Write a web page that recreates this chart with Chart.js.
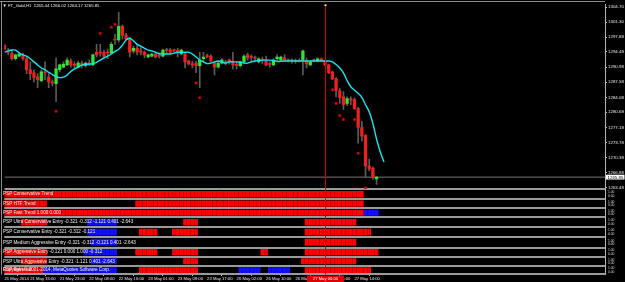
<!DOCTYPE html>
<html>
<head>
<meta charset="utf-8">
<script src="https://cdn.jsdelivr.net/npm/chart.js@4.4.1/dist/chart.umd.min.js"></script>
<style>
  html, body { margin: 0; padding: 0; background: #000; }
</style>
</head>
<body>
<canvas id="gold" width="625" height="282"></canvas>
<script>
'use strict'

// H1 bars, oldest first (bar 101 is the live one)
const opens = [
  1296.0, 1294.7, 1294.2, 1292.9, 1293.5, 1293.8, 1292.9, 1290.4, 1289.7, 1288.8,
  1287.9, 1289.9, 1288.8, 1287.6, 1287.2, 1290.4, 1291.0, 1291.5, 1292.4, 1291.5,
  1291.0, 1291.9, 1291.3, 1291.9, 1291.5, 1294.4, 1294.4, 1294.4, 1294.4, 1294.2,
  1297.4, 1297.2, 1300.3, 1298.3, 1297.4, 1294.7, 1295.3, 1294.7, 1294.4, 1293.3,
  1293.5, 1294.0, 1293.8, 1293.5, 1294.9, 1294.9, 1294.9, 1294.7, 1294.0, 1294.0,
  1292.4, 1291.7, 1291.9, 1291.3, 1292.9, 1293.5, 1293.5, 1291.9, 1291.0, 1291.9,
  1292.2, 1292.6, 1292.2, 1291.5, 1291.3, 1292.2, 1293.8, 1293.3, 1293.1, 1292.2,
  1292.6, 1292.6, 1291.7, 1291.5, 1292.9, 1292.6, 1293.1, 1292.6, 1292.6, 1292.4,
  1292.4, 1292.6, 1292.4, 1291.5, 1292.6, 1292.4, 1292.9, 1292.4, 1291.5, 1289.9,
  1288.3, 1285.6, 1284.2, 1282.7, 1283.6, 1283.6, 1281.5, 1277.2, 1275.4, 1268.4,
  1267.9, 1265.44
]
const highs = [
  1296.2, 1295.3, 1294.9, 1294.0, 1294.4, 1294.2, 1293.3, 1292.2, 1290.4, 1289.5,
  1290.4, 1292.2, 1289.5, 1288.1, 1293.1, 1291.7, 1292.2, 1293.1, 1292.9, 1292.2,
  1292.4, 1292.4, 1292.2, 1292.6, 1294.0, 1296.2, 1296.2, 1294.9, 1295.1, 1296.7,
  1298.5, 1303.5, 1300.6, 1298.7, 1297.8, 1295.8, 1296.0, 1295.6, 1294.7, 1294.0,
  1294.2, 1294.4, 1294.2, 1295.1, 1295.3, 1295.3, 1295.1, 1295.3, 1295.1, 1294.4,
  1292.6, 1292.4, 1292.4, 1294.4, 1294.4, 1294.0, 1293.8, 1292.4, 1292.2, 1292.9,
  1292.6, 1292.9, 1294.4, 1292.2, 1292.4, 1293.8, 1294.2, 1293.8, 1293.5, 1293.1,
  1293.3, 1293.5, 1292.2, 1292.9, 1293.8, 1293.5, 1293.8, 1292.9, 1292.9, 1292.9,
  1292.9, 1294.9, 1293.1, 1292.4, 1292.9, 1293.1, 1293.1, 1292.6, 1291.7, 1290.1,
  1288.6, 1286.1, 1285.4, 1284.2, 1284.2, 1284.0, 1281.8, 1278.6, 1275.6, 1270.0,
  1268.2, 1266.02
]
const lows = [
  1294.9, 1293.8, 1292.6, 1292.6, 1293.3, 1292.6, 1289.5, 1288.1, 1287.6, 1286.3,
  1287.6, 1288.1, 1286.3, 1286.7, 1283.1, 1289.9, 1290.8, 1291.3, 1291.0, 1290.8,
  1290.8, 1290.8, 1291.0, 1291.3, 1291.3, 1293.3, 1293.5, 1293.1, 1292.9, 1294.0,
  1296.2, 1296.7, 1297.4, 1297.2, 1293.3, 1294.2, 1293.8, 1293.8, 1293.1, 1293.1,
  1293.3, 1293.1, 1293.1, 1293.3, 1294.2, 1294.2, 1294.4, 1293.3, 1293.8, 1290.8,
  1291.5, 1290.8, 1289.7, 1286.3, 1292.2, 1293.1, 1292.2, 1289.2, 1290.8, 1291.7,
  1291.5, 1291.7, 1290.6, 1290.6, 1291.0, 1291.9, 1292.6, 1292.2, 1292.2, 1291.9,
  1291.7, 1291.3, 1291.0, 1291.3, 1292.2, 1292.4, 1292.4, 1292.2, 1291.9, 1291.9,
  1292.2, 1289.2, 1290.8, 1291.3, 1292.2, 1292.2, 1292.2, 1291.3, 1289.5, 1288.1,
  1284.2, 1282.7, 1281.3, 1282.2, 1282.4, 1281.3, 1273.6, 1274.1, 1265.7, 1267.3,
  1265.4, 1264.17
]
const closes = [
  1295.1, 1294.4, 1292.9, 1293.8, 1294.0, 1292.9, 1290.4, 1289.5, 1288.6, 1288.1,
  1289.9, 1289.7, 1287.6, 1287.4, 1290.6, 1291.5, 1291.7, 1292.6, 1291.5, 1291.4,
  1291.9, 1291.3, 1291.9, 1291.7, 1293.8, 1293.8, 1294.2, 1293.5, 1294.2, 1296.2,
  1297.2, 1300.3, 1298.3, 1297.4, 1294.4, 1295.3, 1294.4, 1294.4, 1293.8, 1293.8,
  1294.0, 1293.3, 1293.5, 1294.9, 1294.8, 1294.4, 1294.7, 1294.6, 1294.9, 1292.2,
  1291.7, 1291.5, 1291.3, 1292.6, 1293.3, 1293.4, 1292.4, 1291.0, 1291.9, 1292.6,
  1291.9, 1292.2, 1291.5, 1291.4, 1292.2, 1293.5, 1293.1, 1293.2, 1293.0, 1292.9,
  1292.5, 1291.5, 1291.6, 1292.6, 1293.3, 1293.3, 1292.6, 1292.5, 1292.5, 1292.3,
  1292.3, 1294.7, 1291.7, 1292.2, 1292.5, 1292.9, 1292.4, 1291.5, 1289.7, 1288.3,
  1285.6, 1284.0, 1282.4, 1283.8, 1283.5, 1281.5, 1277.2, 1275.2, 1268.4, 1267.7,
  1265.7, 1265.85
]

// cyan moving average (shifted two bars forward)
const maLine = [
  1294.4, 1294.7, 1294.9, 1294.9, 1294.2, 1293.8, 1293.5, 1292.9, 1292.2, 1291.5,
  1290.8, 1290.4, 1289.8, 1289.3, 1288.8, 1288.6, 1288.7, 1289.2, 1290.0, 1290.6,
  1291.0, 1291.5, 1291.6, 1291.7, 1291.8, 1292.1, 1292.6, 1293.1, 1293.5, 1294.0,
  1294.6, 1295.1, 1296.0, 1297.2, 1297.6, 1297.0, 1296.2, 1295.8, 1295.3, 1294.9,
  1294.7, 1294.4, 1294.1, 1294.0, 1294.0, 1294.0, 1294.2, 1294.4, 1294.4, 1294.4,
  1294.4, 1294.0, 1293.3, 1292.6, 1292.2, 1291.8, 1291.9, 1292.2, 1292.4, 1292.2,
  1291.9, 1292.2, 1292.2, 1292.2, 1292.1, 1291.9, 1291.9, 1292.2, 1292.4, 1292.5,
  1292.6, 1292.6, 1292.6, 1292.5, 1292.3, 1292.3, 1292.4, 1292.4, 1292.4, 1292.4,
  1292.4, 1292.4, 1292.4, 1292.4, 1292.4, 1292.4, 1292.4, 1292.4, 1292.4, 1292.2,
  1291.6, 1290.8, 1289.7, 1287.9, 1286.5, 1285.7, 1285.0, 1284.1, 1282.4, 1280.8,
  1278.1, 1274.5, 1271.6, 1269.3
]

// red signal dots
const dotBar = [14, 26, 29, 30, 52, 53, 89, 90, 91, 92, 95, 96, 98]
const dotPrice = [1280.9, 1298.7, 1300.1, 1300.8, 1287.4, 1284.0, 1285.8, 1282.7, 1279.9, 1279.0, 1279.0, 1271.3, 1263.4]

const priceTicks = [1304.70, 1301.30, 1297.88, 1294.48, 1290.98, 1287.58, 1284.08, 1280.68, 1277.18, 1273.78, 1270.38, 1266.88, 1263.48]

const timeBar = [0, 7, 15, 23, 31, 39, 47, 55, 63, 71, 79, 87, 95]
const timeText = ['21 May 2014', '21 May 15:00', '21 May 23:00', '22 May 08:00', '22 May 16:00', '23 May 01:00',
  '23 May 09:00', '23 May 17:00', '26 May 02:00', '26 May 10:00', '26 May 18:00', '27 May 06:00', '27 May 14:00']

const cursorBar = 87
const cursorText = '27 May 06:00'
const header = 'FT_Gold,H1  1265.44 1266.02 1264.17 1265.85'

// indicator windows: runs of [colour, firstBar, lastBar]
const trendConservative = [['r', 0, 97]]
const trendHTF = [['r', 0, 11], ['r', 36, 97]]
const trendFast = [['r', 0, 97], ['b', 98, 101]]
const entryUltraConservative = [['r', 5, 11], ['b', 23, 30], ['r', 49, 52], ['r', 82, 95]]
const entryConservative = [['b', 23, 30], ['r', 37, 41], ['r', 46, 52], ['r', 82, 99]]
const entryMedium = [['b', 24, 30], ['r', 82, 95]]
const entryAggressive = [['r', 0, 11], ['b', 22, 30], ['r', 36, 41], ['r', 46, 52], ['r', 70, 71], ['r', 82, 101]]
const entryUltraAggressive = [['r', 5, 11], ['b', 24, 30], ['r', 49, 52], ['r', 81, 95]]
const reversal = [['r', 0, 10], ['b', 11, 30], ['r', 37, 52], ['b', 64, 69], ['b', 72, 77], ['r', 82, 99]]

const paneTitles = [
  'PSP Conservative Trend',
  'PSP HTF Trend',
  'PSP Fast Trend 1.000 0.000',
  'PSP Ultra Conservative Entry -0.321 -0.312 -1.121 0.401 -2.643',
  'PSP Conservative Entry -0.321 -0.312 -0.121',
  'PSP Medium Aggressive Entry -0.321 -0.312 -0.121 0.401 -2.643',
  'PSP Aggressive Entry -0.121 0.000 1.000 -0.312',
  'PSP Ultra Aggressive Entry -0.321 -1.121 0.401 -2.643',
  'PSP Reversal'
]
const paneRuns = [trendConservative, trendHTF, trendFast, entryUltraConservative, entryConservative,
  entryMedium, entryAggressive, entryUltraAggressive, reversal]

// ---------------------------------------------------------------------------
const FONT = 'Liberation Sans'
Chart.defaults.font.family = FONT
const paneHeights = [9.8, 9.4, 9, 10, 10, 10.6, 9.4, 9, 8.8]
const lastClose = closes[closes.length - 1]

const bars = opens.map((o, i) => i)
const bodyData = bars.map(i => ({x: i, y: [opens[i], closes[i]]}))
const bodyColors = bars.map(i => closes[i] >= opens[i] ? '#2ee82e' : '#f02020')
const wickData = bars.map(i => ({x: i, y: [lows[i], highs[i]]}))

const paneDataset = (runs, axis) => {
  const pts = [], cols = []
  runs.forEach(([c, a, b]) => {
    for (let i = a; i <= b; i++) {
      pts.push({x: i, y: [0.2, 0.8]})
      cols.push(c === 'r' ? '#ff0000' : '#1010ff')
    }
  })
  return {type: 'bar', yAxisID: axis, data: pts, backgroundColor: cols, barThickness: 3, grouped: false}
}

const noPad = s => { s.paddingTop = 0; s.paddingBottom = 0; s.paddingLeft = 0; s.paddingRight = 0 }

const paneScale = w => ({
  position: 'right', stack: 'pane', stackWeight: w, min: 0, max: 1, offset: false,
  afterBuildTicks: s => { s.ticks = [{value: 0}, {value: 0.5}, {value: 1}] },
  afterFit: s => { s.width = 20; noPad(s) },
  grid: { color: c => (c.tick && c.tick.value === 0.5) ? 'rgba(0,0,0,0)' : '#9a9a9a', lineWidth: 2, drawTicks: false },
  border: { display: true, color: '#b4b4b4', width: 1 },
  ticks: { autoSkip: false, padding: 3, crossAlign: 'near', color: '#d8d8d8',
    font: {size: 3.3, lineHeight: 1}, callback: v => v === 0.5 ? ['1.00', '0.00'] : '' }
})

const scales = {
  x: {
    type: 'linear', position: 'bottom', min: 0, max: 163, offset: false,
    afterBuildTicks: s => { s.ticks = timeBar.map(v => ({value: v})) },
    afterFit: s => { s.height = 7.5; noPad(s) },
    grid: { drawOnChartArea: false, tickLength: 1.5, color: '#c0c0c0' },
    border: { display: true, color: '#9a9a9a', width: 1 },
    ticks: { autoSkip: false, maxRotation: 0, minRotation: 0, align: 'start', padding: 0.5,
      color: '#e8e8e8', font: {size: 4.2}, callback: (v, k) => timeText[k] }
  },
  y: {
    position: 'right', stack: 'pane', stackWeight: 186.5, min: 1263.07, max: 1305.31, offset: false,
    afterBuildTicks: s => { s.ticks = priceTicks.map(v => ({value: v})) },
    afterFit: s => { s.width = 20; noPad(s) },
    grid: { drawOnChartArea: false, tickLength: 2, color: '#c0c0c0' },
    border: { display: true, color: '#b4b4b4', width: 1 },
    ticks: { autoSkip: false, padding: 1, crossAlign: 'near', color: '#e8e8e8',
      font: {size: 4.4}, callback: v => v.toFixed(2) }
  }
}
paneHeights.forEach((h, k) => { scales['p' + (k + 1)] = paneScale(h) })

const datasets = [
  { type: 'line', yAxisID: 'y', data: dotBar.map((b, k) => ({x: b, y: dotPrice[k]})), showLine: false,
    pointStyle: 'rect', pointRadius: 1.5, pointBackgroundColor: '#ff0000', pointBorderColor: '#c00000', pointBorderWidth: 0.5 },
  { type: 'line', yAxisID: 'y', data: maLine.map((v, i) => ({x: i, y: v})), borderColor: '#16e6f0',
    borderWidth: 1.4, pointRadius: 0, tension: 0.2 },
  { type: 'bar', yAxisID: 'y', data: bodyData, backgroundColor: bodyColors, barThickness: 2.6, minBarLength: 1, grouped: false },
  { type: 'bar', yAxisID: 'y', data: wickData, backgroundColor: '#5c5c5c', barThickness: 1, grouped: false },
  { type: 'line', yAxisID: 'y', data: [{x: 0, y: lastClose}, {x: 163, y: lastClose}], borderColor: '#777',
    borderWidth: 1, pointRadius: 0 }
]
paneRuns.forEach((runs, k) => datasets.push(paneDataset(runs, 'p' + (k + 1))))

const overlay = {
  id: 'overlay',
  afterDatasetsDraw(chart) {
    const {ctx, chartArea: a, scales: s} = chart
    ctx.save()
    ctx.strokeStyle = '#8c8c8c'
    ctx.lineWidth = 1
    ctx.beginPath()
    ctx.moveTo(0, 1.5); ctx.lineTo(a.right, 1.5)
    ctx.moveTo(1.5, 1); ctx.lineTo(1.5, a.bottom)
    ctx.stroke()

    const cx = Math.round(s.x.getPixelForValue(cursorBar)) + 0.5
    ctx.strokeStyle = '#d00000'
    ctx.beginPath(); ctx.moveTo(cx, a.top); ctx.lineTo(cx, a.bottom); ctx.stroke()
    ctx.fillStyle = '#ffffff'
    ctx.fillRect(cx - 1, a.top, 2, 1.5)

    ctx.font = `4.3px "${FONT}"`
    ctx.fillStyle = '#f0f0f0'
    ctx.textBaseline = 'middle'
    ctx.textAlign = 'left'
    ctx.fillText('▼', 2.5, 5.5)
    ctx.fillText(header, 8, 5.5)
    ctx.font = `4.6px "${FONT}"`
    paneTitles.forEach((t, k) => {
      const y = s['p' + (k + 1)].getPixelForValue(0.5)
      ctx.fillText(t, 3, y)
      if (k === paneTitles.length - 1) ctx.fillText('Copyright \u00a9 2001-2014, MetaQuotes Software Corp.', 3, y)
    })
    ctx.restore()
  },
  afterDraw(chart) {
    const {ctx, chartArea: a, scales: s} = chart
    ctx.save()
    const cx = Math.round(s.x.getPixelForValue(cursorBar)) + 0.5
    ctx.fillStyle = '#e00000'
    ctx.fillRect(cx - 18.5, a.bottom + 1, 37, 6.5)
    ctx.font = `4.2px "${FONT}"`
    ctx.textAlign = 'center'
    ctx.textBaseline = 'middle'
    ctx.fillStyle = '#ffffff'
    ctx.fillText(cursorText, cx, a.bottom + 4.3)

    const py = s.y.getPixelForValue(lastClose)
    ctx.fillStyle = '#ffffff'
    ctx.fillRect(a.right + 1, py - 2.4, 18.5, 4.8)
    ctx.fillStyle = '#000000'
    ctx.font = `4.4px "${FONT}"`
    ctx.textAlign = 'left'
    ctx.fillText(lastClose.toFixed(2), a.right + 2.5, py + 0.2)
    ctx.restore()
  }
}

new Chart(document.getElementById('gold'), {
  type: 'bar',
  data: { datasets },
  options: {
    responsive: false,
    devicePixelRatio: 1,
    animation: false,
    layout: { padding: { left: 2, top: 2, right: 0, bottom: 0 } },
    plugins: { legend: { display: false }, tooltip: { enabled: false } },
    scales
  },
  plugins: [overlay]
})
</script>
</body>
</html>
